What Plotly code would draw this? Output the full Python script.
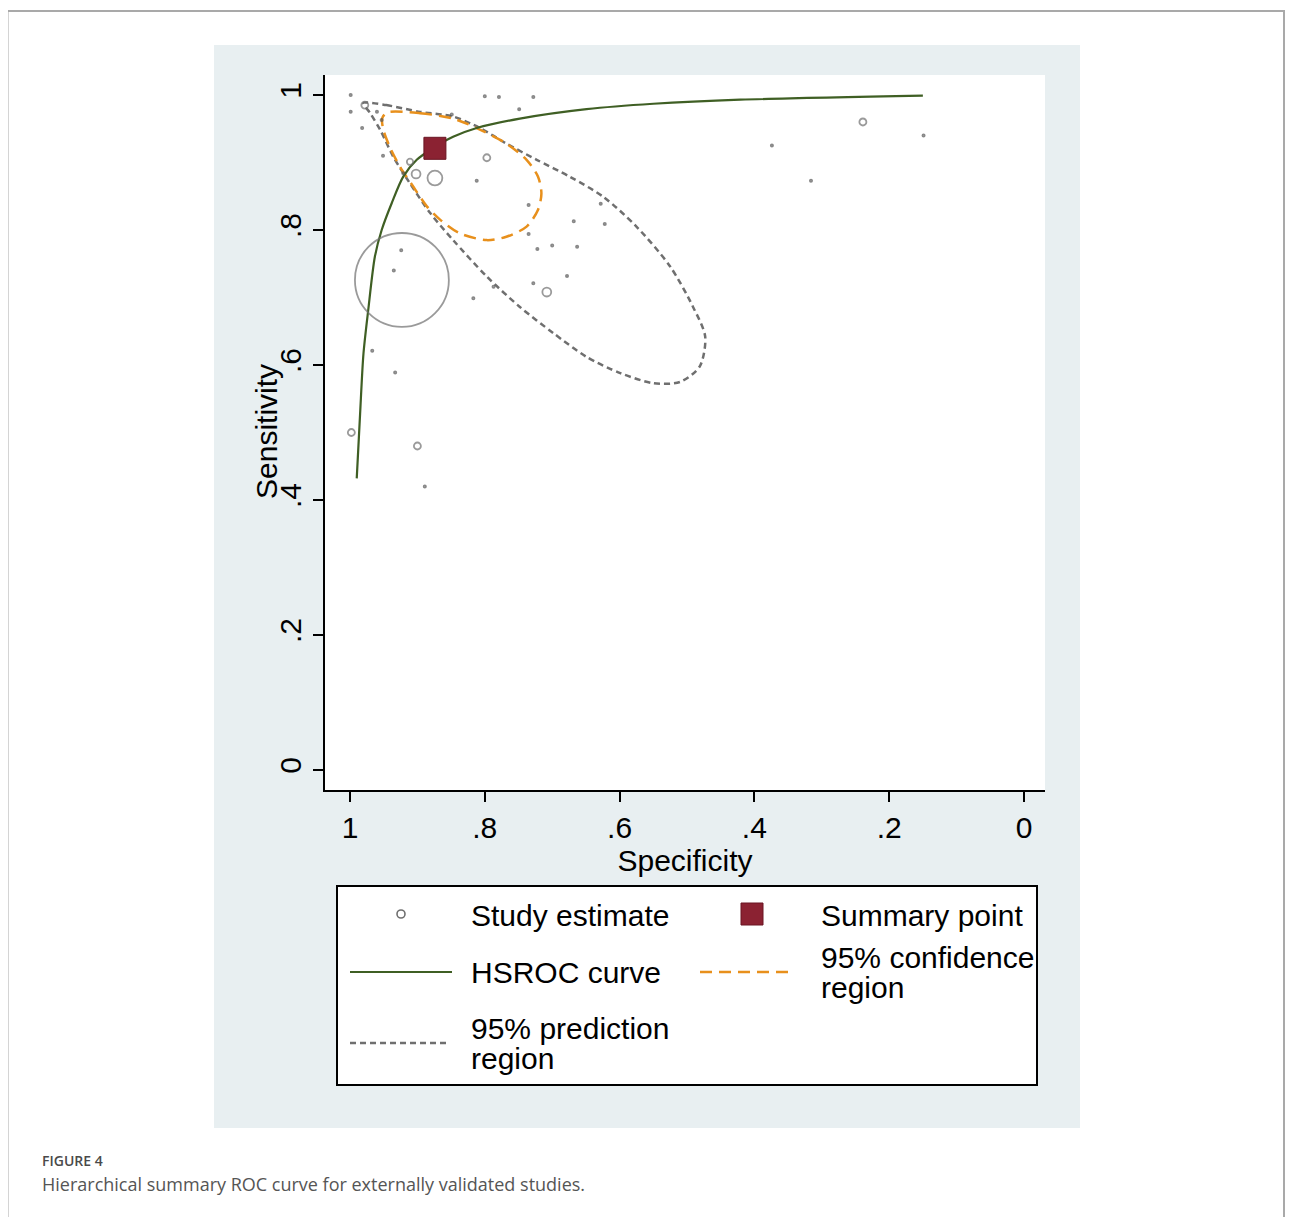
import plotly.graph_objects as go
import numpy as np

# page body has an 8px margin; figure is sized to fit the 1293x1217 window
OFF = 8
W, H = 1293 - OFF, 1217 - OFF

# ---------------- data ----------------
study_spec = [0.999, 0.999, 0.800, 0.779, 0.728, 0.749, 0.849, 0.960, 0.953, 0.982,
              0.951, 0.921, 0.812, 0.735, 0.628, 0.668, 0.622, 0.735, 0.722, 0.700,
              0.663, 0.924, 0.935, 0.678, 0.728, 0.787, 0.817, 0.967, 0.933, 0.889,
              0.149, 0.316, 0.374,
              0.978, 0.911, 0.797, 0.902, 0.874, 0.923, 0.708, 0.998, 0.900, 0.239]
study_sens = [1.000, 0.975, 0.998, 0.997, 0.997, 0.979, 0.971, 0.975, 0.963, 0.951,
              0.910, 0.884, 0.873, 0.837, 0.839, 0.813, 0.809, 0.794, 0.772, 0.777,
              0.775, 0.770, 0.740, 0.732, 0.721, 0.716, 0.699, 0.621, 0.589, 0.420,
              0.940, 0.873, 0.925,
              0.985, 0.901, 0.907, 0.883, 0.877, 0.726, 0.708, 0.500, 0.480, 0.960]
study_weight = [0.1] * 33 + [1.0, 0.8, 1.0, 1.6, 4.5, 180.0, 1.6, 1.0, 1.0, 1.0]

summary_spec = [0.874]
summary_sens = [0.921]

hsroc_spec = [0.990, 0.985, 0.980, 0.973, 0.963, 0.953, 0.938, 0.921, 0.901, 0.874,
              0.847, 0.812, 0.748, 0.649, 0.550, 0.421, 0.150]
hsroc_sens = [0.432, 0.528, 0.617, 0.681, 0.761, 0.800, 0.840, 0.879, 0.904, 0.923,
              0.938, 0.951, 0.965, 0.979, 0.987, 0.993, 0.999]

conf_spec = [0.945, 0.896, 0.847, 0.812, 0.768, 0.738, 0.721, 0.716, 0.721, 0.738,
             0.768, 0.797, 0.837, 0.866, 0.886, 0.906, 0.926, 0.941, 0.951, 0.952, 0.945]
conf_sens = [0.974, 0.973, 0.965, 0.951, 0.928, 0.904, 0.879, 0.854, 0.830, 0.805,
             0.790, 0.785, 0.795, 0.815, 0.835, 0.864, 0.894, 0.923, 0.950, 0.966, 0.974]

pred_spec = [0.980, 0.946, 0.896, 0.847, 0.807, 0.768, 0.723, 0.674, 0.624, 0.575,
             0.525, 0.491, 0.473, 0.481, 0.510, 0.550, 0.599, 0.649, 0.698, 0.748,
             0.797, 0.847, 0.881, 0.911, 0.936, 0.955, 0.970, 0.980]
pred_sens = [0.988, 0.985, 0.975, 0.968, 0.951, 0.928, 0.904, 0.879, 0.849, 0.805,
             0.746, 0.686, 0.642, 0.598, 0.575, 0.573, 0.588, 0.612, 0.647, 0.686,
             0.731, 0.785, 0.825, 0.869, 0.909, 0.948, 0.973, 0.988]

tick_vals = [1, 0.8, 0.6, 0.4, 0.2, 0]
tick_text = ["1", ".8", ".6", ".4", ".2", "0"]

legend_labels = ["Study estimate", "Summary point", "HSROC curve",
                 "95% confidence<br>region", "95% prediction<br>region"]

# ---------------- styles ----------------
GRAY = "#6f6f6f"
DOT = "#555555"
GREEN = "#3f5f24"
ORANGE = "#e8901c"
RED = "#8b2232"
PANEL = "#e8eff1"
FONT = "Liberation Sans, Arial, sans-serif"
FS = 30

def px(x):
    return (x - OFF) / W

def py(y):
    return 1 - (y - OFF) / H

fig = go.Figure()

fig.add_trace(go.Scatter(
    x=pred_spec, y=pred_sens, mode="lines", name="95% prediction region",
    line=dict(color=GRAY, width=2.5, dash="6px,4px", shape="spline", smoothing=0.8),
    showlegend=False, hoverinfo="skip"))
fig.add_trace(go.Scatter(
    x=conf_spec, y=conf_sens, mode="lines", name="95% confidence region",
    line=dict(color=ORANGE, width=2.5, dash="12px,7px", shape="spline", smoothing=0.8),
    showlegend=False, hoverinfo="skip"))
fig.add_trace(go.Scatter(
    x=hsroc_spec, y=hsroc_sens, mode="lines", name="HSROC curve",
    line=dict(color=GREEN, width=2.2, shape="spline", smoothing=0.8),
    showlegend=False))
sizes = [7.0 * np.sqrt(w) for w in study_weight]
colors = [DOT if w < 0.5 else GRAY for w in study_weight]
fig.add_trace(go.Scatter(
    x=study_spec, y=study_sens, mode="markers", name="Study estimate",
    marker=dict(symbol="circle-open", size=sizes, color=colors,
                line=dict(color=colors, width=1.8)),
    showlegend=False))
fig.add_trace(go.Scatter(
    x=summary_spec, y=summary_sens, mode="markers", name="Summary point",
    marker=dict(symbol="square", size=22, color=RED,
                line=dict(color="#6a1522", width=1)),
    showlegend=False))

shapes = []
# outer figure frame
shapes.append(dict(type="rect", xref="paper", yref="paper",
                   x0=px(7.5), x1=px(1284), y0=py(1240), y1=py(11),
                   line=dict(color="#a9a9a9", width=2), fillcolor="rgba(0,0,0,0)",
                   layer="below"))
# graph panel
shapes.append(dict(type="rect", xref="paper", yref="paper",
                   x0=px(214), x1=px(1080), y0=py(1128), y1=py(45),
                   line=dict(width=0), fillcolor=PANEL, layer="below"))
# plot region
shapes.append(dict(type="rect", xref="paper", yref="paper",
                   x0=px(325), x1=px(1045), y0=py(790), y1=py(75),
                   line=dict(width=0), fillcolor="white", layer="below"))
# legend box
shapes.append(dict(type="rect", xref="paper", yref="paper",
                   x0=px(337), x1=px(1037), y0=py(1085), y1=py(886),
                   line=dict(color="black", width=2), fillcolor="white", layer="below"))
# legend keys
shapes.append(dict(type="circle", xref="paper", yref="paper",
                   x0=px(397), x1=px(405), y0=py(918), y1=py(910),
                   line=dict(color=GRAY, width=1.6)))
shapes.append(dict(type="rect", xref="paper", yref="paper",
                   x0=px(741), x1=px(763), y0=py(925), y1=py(903),
                   line=dict(color="#6a1522", width=1), fillcolor=RED))
shapes.append(dict(type="line", xref="paper", yref="paper",
                   x0=px(350), x1=px(452), y0=py(972), y1=py(972),
                   line=dict(color=GREEN, width=2.2)))
shapes.append(dict(type="line", xref="paper", yref="paper",
                   x0=px(700), x1=px(795), y0=py(972), y1=py(972),
                   line=dict(color=ORANGE, width=2.5, dash="12px,7px")))
shapes.append(dict(type="line", xref="paper", yref="paper",
                   x0=px(350), x1=px(447), y0=py(1043), y1=py(1043),
                   line=dict(color=GRAY, width=2.5, dash="6px,4px")))

annotations = []
leg_pos = [(469, 915), (819, 915), (469, 972), (819, 972), (469, 1043)]
LINE_GAP = 30
for lab, (lx, ly) in zip(legend_labels, leg_pos):
    parts = lab.split("<br>")
    n = len(parts)
    for i, part in enumerate(parts):
        yy = ly + (i - (n - 1) / 2) * LINE_GAP
        annotations.append(dict(xref="paper", yref="paper", x=px(lx), y=py(yy),
                                text=part, showarrow=False, xanchor="left",
                                yanchor="middle", align="left",
                                font=dict(family=FONT, size=FS, color="black")))

# y-axis title (placed to overlap the tick-label band as in the reference)
annotations.append(dict(xref="paper", yref="paper", x=px(266), y=py(432),
                        text="Sensitivity", showarrow=False, textangle=-90,
                        xanchor="center", yanchor="middle",
                        font=dict(family=FONT, size=FS, color="black")))

annotations.append(dict(xref="paper", yref="paper", x=px(40), y=py(1160),
                        text="FIGURE 4", showarrow=False, xanchor="left", yanchor="middle",
                        font=dict(family="Open Sans, sans-serif", size=14, color="#4a4a4a",
                                  weight=600)))
annotations.append(dict(xref="paper", yref="paper", x=px(40), y=py(1184),
                        text="Hierarchical summary ROC curve for externally validated studies.",
                        showarrow=False, xanchor="left", yanchor="middle",
                        font=dict(family="Open Sans, sans-serif", size=18, color="#555555")))

axis_common = dict(
    showgrid=False, zeroline=False, showline=True, linecolor="black", linewidth=1.5,
    ticks="outside", ticklen=10, tickwidth=1.5, tickcolor="black",
    tickvals=tick_vals, ticktext=tick_text,
    tickfont=dict(family=FONT, size=FS, color="black"),
)

fig.update_layout(
    width=W, height=H, autosize=False,
    margin=dict(l=0, r=0, t=0, b=0),
    paper_bgcolor="white", plot_bgcolor="white",
    showlegend=False,
    xaxis=dict(domain=[px(325), px(1045)], range=[1.0371, -0.0312],
               title=dict(text="Specificity", font=dict(family=FONT, size=FS, color="black"),
                          standoff=0),
               **axis_common),
    yaxis=dict(domain=[py(790), py(75)], range=[-0.0296, 1.0296], tickangle=-90,
               **axis_common),
    shapes=shapes,
    annotations=annotations,
)

fig.write_html("out.html")
